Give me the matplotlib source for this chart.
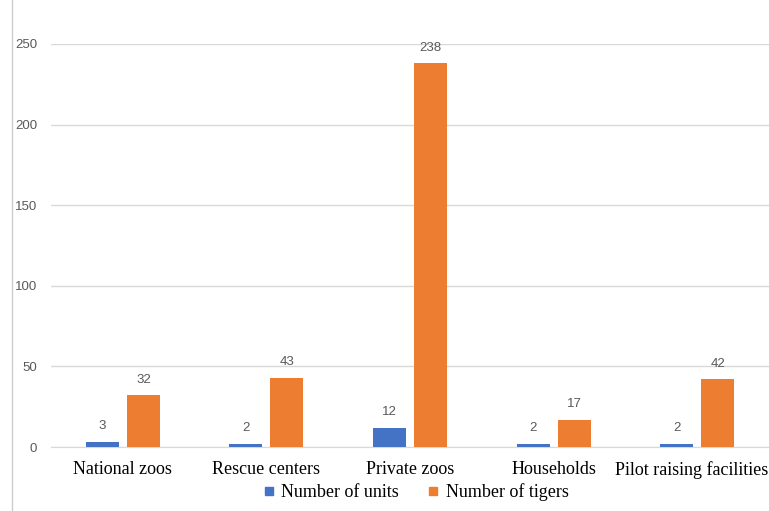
import matplotlib.pyplot as plt
import numpy as np
from matplotlib.lines import Line2D
import matplotlib.transforms as mtransforms

categories = ["National zoos", "Rescue centers", "Private zoos", "Households", "Pilot raising facilities"]
units = [3, 2, 12, 2, 2]
tigers = [32, 43, 238, 17, 42]

blue = "#4472C4"
orange = "#ED7D31"

fig = plt.figure(figsize=(7.69, 5.11), dpi=100)
ax = fig.add_axes([51/769, 64/511, 718/769, 403/511])

x = np.arange(len(categories))
w = 0.23
b1 = ax.bar(x - 0.143, units, w, color=blue, zorder=3)
b2 = ax.bar(x + 0.143, tigers, w, color=orange, zorder=3)

for bars in (b1, b2):
    for r in bars:
        ax.text(r.get_x() + r.get_width()/2, r.get_height() + 6, str(int(r.get_height())),
                ha="center", va="bottom", fontsize=9.5, color="#595959", family="Liberation Sans")

ax.set_xlim(-0.5, 4.5)
ax.set_ylim(0, 250)
ax.set_yticks(range(0, 251, 50))
ax.yaxis.grid(True, color="#d9d9d9", linewidth=1, zorder=0)
ax.tick_params(axis="y", length=0, pad=10, labelcolor="#595959", labelsize=9.5)
for lab in ax.get_yticklabels():
    lab.set_family("Liberation Sans")
ax.set_xticks(x)
ax.set_xticklabels(categories, family="Liberation Serif", fontsize=13)
ax.tick_params(axis="x", length=0, pad=10)
# nudge last label so it stays inside the figure
last = ax.get_xticklabels()[-1]
last.set_transform(last.get_transform() + mtransforms.ScaledTranslation(-6/100, 0, fig.dpi_scale_trans))
for s in ["top", "right", "left"]:
    ax.spines[s].set_visible(False)
ax.spines["bottom"].set_color("#d9d9d9")

# thin border at left edge
fig.add_artist(Line2D([12/769, 12/769], [0, 1], color="#cccccc", linewidth=1))

handles = [Line2D([], [], marker="s", linestyle="none", color=blue, markersize=6),
           Line2D([], [], marker="s", linestyle="none", color=orange, markersize=6)]
fig.legend(handles, ["Number of units", "Number of tigers"], loc="center",
           bbox_to_anchor=(415/769, 19/511), ncol=2, frameon=False,
           prop={"family": "Liberation Serif", "size": 13},
           handletextpad=0.3, columnspacing=1.5, handlelength=0.8)

fig.savefig("out.png", dpi=100)
